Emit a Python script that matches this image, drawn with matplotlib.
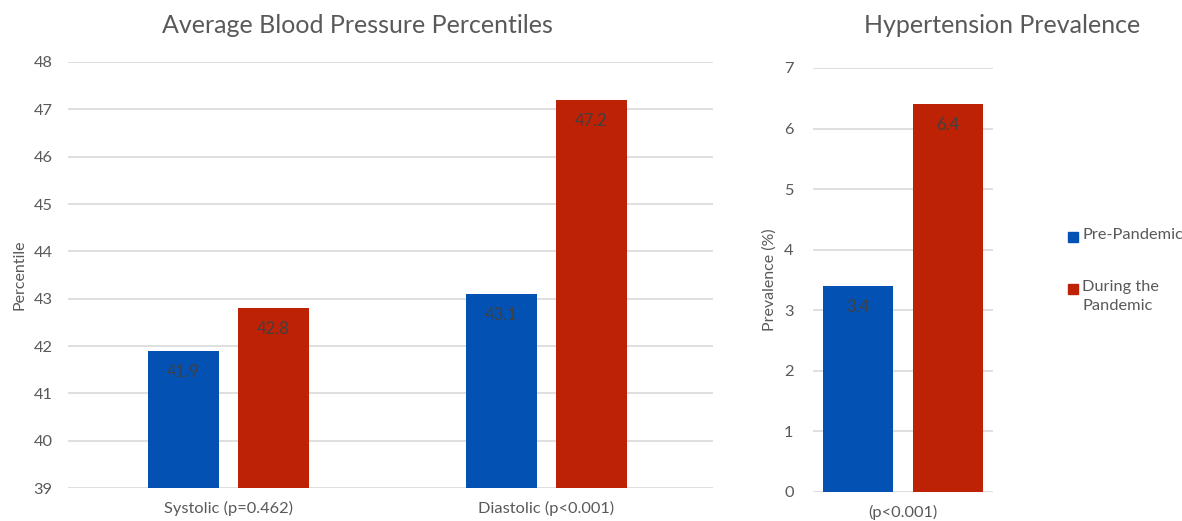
import matplotlib.pyplot as plt
import numpy as np

plt.rcParams['font.family'] = ['Lato', 'DejaVu Sans']

# data
bp_categories = ["Systolic (p=0.462)", "Diastolic (p<0.001)"]
bp_pre = [41.9, 43.1]
bp_during = [42.8, 47.2]

htn_categories = ["(p<0.001)"]
htn_pre = [3.4]
htn_during = [6.4]

series_names = ["Pre-Pandemic", "During the\nPandemic"]
colors = ['#0352B3', '#BE2205']

grid_col = '#D9D9D9'
tick_col = '#595959'
label_col = '#404040'

fig = plt.figure(figsize=(11.82, 5.21), dpi=100, facecolor='white')
ax1 = fig.add_axes([0.0575, 0.0633, 0.5457, 0.8177])
ax2 = fig.add_axes([0.6878, 0.0557, 0.1523, 0.8138])


def style(ax, ylabel, ypad):
    for s in ax.spines.values():
        s.set_visible(False)
    ax.tick_params(length=0, labelsize=11.8, labelcolor=tick_col)
    ax.tick_params(axis='x', pad=9)
    ax.tick_params(axis='y', pad=ypad)
    ax.yaxis.grid(True, color=grid_col, lw=1.2)
    ax.set_axisbelow(True)
    ax.set_ylabel(ylabel, fontsize=11.5, color=tick_col, labelpad=5)


def bars(ax, x, vals, off, w, col):
    b = ax.bar(x + off, vals, w, color=col, zorder=2)
    for rect, v in zip(b, vals):
        ax.annotate(f"{v:.1f}", (rect.get_x() + rect.get_width() / 2, v),
                    xytext=(0, -15), textcoords='offset points',
                    ha='center', va='center', fontsize=12, color=label_col)


# left chart
x1 = np.arange(len(bp_categories))
bars(ax1, x1, bp_pre, -0.1415, 0.223, colors[0])
bars(ax1, x1, bp_during, 0.1415, 0.223, colors[1])
ax1.set_ylim(39, 48)
ax1.set_yticks(range(39, 49))
ax1.set_xlim(-0.505, 1.524)
ax1.set_xticks(x1)
ax1.set_xticklabels(bp_categories)
style(ax1, "Percentile", 11)

# right chart
x2 = np.arange(len(htn_categories))
bars(ax2, x2, htn_pre, -0.25, 0.389, colors[0])
bars(ax2, x2, htn_during, 0.25, 0.389, colors[1])
ax2.set_ylim(0, 7)
ax2.set_yticks(range(0, 8))
ax2.set_xlim(-0.5, 0.5)
ax2.set_xticks(x2)
ax2.set_xticklabels(htn_categories)
style(ax2, "Prevalence (%)", 14)

fig.text(0.302, 0.952, "Average Blood Pressure Percentiles", ha='center', va='center',
         fontsize=18, color=tick_col)
fig.text(0.848, 0.952, "Hypertension Prevalence", ha='center', va='center',
         fontsize=18, color=tick_col)

# legend
for name, col, yy in zip(series_names, colors, [238, 290]):
    fig.patches.append(plt.Rectangle((1068 / 1182, 1 - (yy + 4) / 521), 10 / 1182, 10 / 521,
                                     transform=fig.transFigure, color=col, figure=fig))
    fig.text(1082 / 1182, 1 - (yy - 10) / 521, name, ha='left', va='top',
             fontsize=11.8, color=tick_col, linespacing=1.45)

fig.savefig("out.png", dpi=100, facecolor='white')
